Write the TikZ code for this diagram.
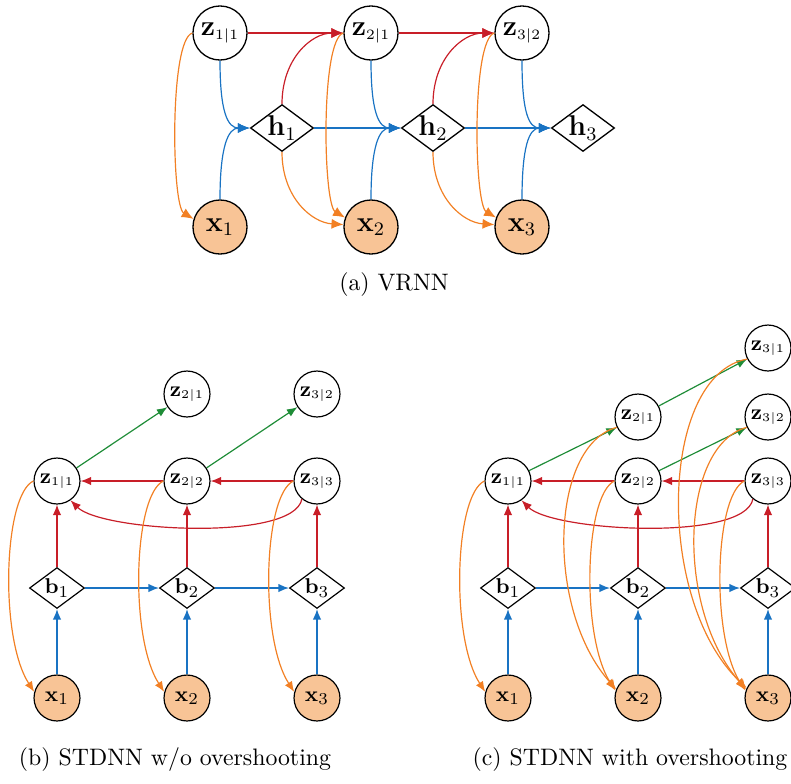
\documentclass[tikz,border=0pt]{standalone}
\usetikzlibrary{shapes.geometric,arrows.meta,calc}
\definecolor{corange}{RGB}{242,128,36}
\definecolor{cfill}{RGB}{248,196,150}
\definecolor{cblue}{RGB}{25,115,195}
\definecolor{cred}{RGB}{200,30,40}
\definecolor{cgreen}{RGB}{30,140,55}
\begin{document}
\begin{tikzpicture}[x=0.42pt,y=-0.42pt,
  zA/.style={circle,draw,line width=0.55pt,minimum size=22.7pt,inner sep=0pt,font=\fontsize{11.5}{13}\selectfont},
  xA/.style={zA,fill=cfill},
  hA/.style={diamond,draw,line width=0.55pt,minimum width=26.5pt,minimum height=19.7pt,inner sep=0pt,aspect=1.35,font=\fontsize{11.5}{13}\selectfont},
  zB/.style={circle,draw,line width=0.5pt,minimum size=19.3pt,inner sep=0pt,font=\fontsize{9.5}{11}\selectfont},
  xB/.style={zB,fill=cfill},
  bB/.style={diamond,draw,line width=0.5pt,minimum width=23.1pt,minimum height=17.2pt,inner sep=0pt,aspect=1.35,font=\fontsize{9.5}{11}\selectfont},
  eA/.style={line width=0.5pt,-{Latex[length=5pt,width=4.2pt]}},
  eB/.style={line width=0.5pt,-{Latex[length=4.4pt,width=3.5pt]}},
  captext/.style={font=\fontsize{10}{12}\selectfont,inner sep=0pt}
]
\useasboundingbox (0,0) rectangle (791,784);

% ---------------- (a) VRNN ----------------
\node[zA] (z11) at (220,33) {$\mathbf{z}_{\scriptscriptstyle 1|1}$};
\node[zA] (z21) at (371,33) {$\mathbf{z}_{\scriptscriptstyle 2|1}$};
\node[zA] (z32) at (522,33) {$\mathbf{z}_{\scriptscriptstyle 3|2}$};
\node[hA] (h1) at (282,128) {$\mathbf{h}_1$};
\node[hA] (h2) at (433,128) {$\mathbf{h}_2$};
\node[hA] (h3) at (583,128) {$\mathbf{h}_3$};
\node[xA] (x1) at (220,227) {$\mathbf{x}_1$};
\node[xA] (x2) at (371,227) {$\mathbf{x}_2$};
\node[xA] (x3) at (522,227) {$\mathbf{x}_3$};
\node[captext] (capa) at (394,285) {(a) VRNN};

\draw[eA,cred] (z11) -- (z21);
\draw[eA,cred] (z21) -- (z32);
\draw[eA,cred] (h1.north) .. controls ($(h1.north)+(0,-45)$) and ($(z21.west)+(-32,0)$) .. (z21.west);
\draw[eA,cred] (h2.north) .. controls ($(h2.north)+(0,-45)$) and ($(z32.west)+(-32,0)$) .. (z32.west);

\draw[eA,cblue] (z11.south) .. controls ($(z11.south)+(0,52)$) and ($(h1.west)+(-22,0)$) .. (h1.west);
\draw[eA,cblue] (x1.north) .. controls ($(x1.north)+(0,-52)$) and ($(h1.west)+(-22,0)$) .. (h1.west);
\draw[eA,cblue] (z21.south) .. controls ($(z21.south)+(0,52)$) and ($(h2.west)+(-22,0)$) .. (h2.west);
\draw[eA,cblue] (x2.north) .. controls ($(x2.north)+(0,-52)$) and ($(h2.west)+(-22,0)$) .. (h2.west);
\draw[eA,cblue] (z32.south) .. controls ($(z32.south)+(0,52)$) and ($(h3.west)+(-22,0)$) .. (h3.west);
\draw[eA,cblue] (x3.north) .. controls ($(x3.north)+(0,-52)$) and ($(h3.west)+(-22,0)$) .. (h3.west);
\draw[eA,cblue] (h1) -- (h2);
\draw[eA,cblue] (h2) -- (h3);

\draw[eA,corange] (z11.west) .. controls ($(z11.west)+(-23,7)$) and ($(x1.163)+(-22,-13)$) .. (x1.163);
\draw[eA,corange] (z21.west) .. controls ($(z21.west)+(-23,7)$) and ($(x2.160)+(-22,-13)$) .. (x2.160);
\draw[eA,corange] (z32.west) .. controls ($(z32.west)+(-23,7)$) and ($(x3.160)+(-22,-13)$) .. (x3.160);
\draw[eA,corange] (h1.south) .. controls ($(h1.south)+(0,45)$) and ($(x2.175)+(-32,-2)$) .. (x2.175);
\draw[eA,corange] (h2.south) .. controls ($(h2.south)+(0,45)$) and ($(x3.175)+(-32,-2)$) .. (x3.175);

% ---------------- (b) STDNN w/o overshooting ----------------
\node[zB] (bz21) at (187,394) {$\mathbf{z}_{\scriptscriptstyle 2|1}$};
\node[zB] (bz32) at (317,394) {$\mathbf{z}_{\scriptscriptstyle 3|2}$};
\node[zB] (bz11) at (57,481) {$\mathbf{z}_{\scriptscriptstyle 1|1}$};
\node[zB] (bz22) at (187,481) {$\mathbf{z}_{\scriptscriptstyle 2|2}$};
\node[zB] (bz33) at (317,481) {$\mathbf{z}_{\scriptscriptstyle 3|3}$};
\node[bB] (bb1) at (57,588) {$\mathbf{b}_1$};
\node[bB] (bb2) at (187,588) {$\mathbf{b}_2$};
\node[bB] (bb3) at (317,588) {$\mathbf{b}_3$};
\node[xB] (bx1) at (57,698) {$\mathbf{x}_1$};
\node[xB] (bx2) at (187,698) {$\mathbf{x}_2$};
\node[xB] (bx3) at (317,698) {$\mathbf{x}_3$};
\node[captext] (capb) at (175,760) {(b) STDNN w/o overshooting};

\draw[eB,cgreen] (bz11) -- (bz21);
\draw[eB,cgreen] (bz22) -- (bz32);
\draw[eB,cred] (bz22) -- (bz11);
\draw[eB,cred] (bz33) -- (bz22);
\draw[eB,cred] (bz33.230) .. controls ($(bz33.230)+(-8,43)$) and ($(bz11.-55)+(31,31)$) .. (bz11.-55);
\draw[eB,cred] (bb1) -- (bz11);
\draw[eB,cred] (bb2) -- (bz22);
\draw[eB,cred] (bb3) -- (bz33);
\draw[eB,cblue] (bx1) -- (bb1);
\draw[eB,cblue] (bx2) -- (bb2);
\draw[eB,cblue] (bx3) -- (bb3);
\draw[eB,cblue] (bb1) -- (bb2);
\draw[eB,cblue] (bb2) -- (bb3);
\draw[eB,corange] (bz11.west) .. controls ($(bz11.west)+(-30,14)$) and ($(bx1.165)+(-35,-54)$) .. (bx1.165);
\draw[eB,corange] (bz22.west) .. controls ($(bz22.west)+(-30,14)$) and ($(bx2.165)+(-35,-54)$) .. (bx2.165);
\draw[eB,corange] (bz33.west) .. controls ($(bz33.west)+(-30,14)$) and ($(bx3.165)+(-35,-54)$) .. (bx3.165);

% ---------------- (c) STDNN with overshooting ----------------
\node[zB] (cz31) at (768,348) {$\mathbf{z}_{\scriptscriptstyle 3|1}$};
\node[zB] (cz21) at (638,417) {$\mathbf{z}_{\scriptscriptstyle 2|1}$};
\node[zB] (cz32) at (768,417) {$\mathbf{z}_{\scriptscriptstyle 3|2}$};
\node[zB] (cz11) at (508,481) {$\mathbf{z}_{\scriptscriptstyle 1|1}$};
\node[zB] (cz22) at (638,481) {$\mathbf{z}_{\scriptscriptstyle 2|2}$};
\node[zB] (cz33) at (768,481) {$\mathbf{z}_{\scriptscriptstyle 3|3}$};
\node[bB] (cb1) at (508,588) {$\mathbf{b}_1$};
\node[bB] (cb2) at (638,588) {$\mathbf{b}_2$};
\node[bB] (cb3) at (768,588) {$\mathbf{b}_3$};
\node[xB] (cx1) at (508,698) {$\mathbf{x}_1$};
\node[xB] (cx2) at (638,698) {$\mathbf{x}_2$};
\node[xB] (cx3) at (768,698) {$\mathbf{x}_3$};
\node[captext] (capc) at (630,760) {(c) STDNN with overshooting};

\draw[eB,cgreen] (cz11) -- (cz21);
\draw[eB,cgreen] (cz21) -- (cz31);
\draw[eB,cgreen] (cz22) -- (cz32);
\draw[eB,cred] (cz22) -- (cz11);
\draw[eB,cred] (cz33) -- (cz22);
\draw[eB,cred] (cz33.230) .. controls ($(cz33.230)+(-8,43)$) and ($(cz11.-55)+(31,31)$) .. (cz11.-55);
\draw[eB,cred] (cb1) -- (cz11);
\draw[eB,cred] (cb2) -- (cz22);
\draw[eB,cred] (cb3) -- (cz33);
\draw[eB,cblue] (cx1) -- (cb1);
\draw[eB,cblue] (cx2) -- (cb2);
\draw[eB,cblue] (cx3) -- (cb3);
\draw[eB,cblue] (cb1) -- (cb2);
\draw[eB,cblue] (cb2) -- (cb3);
\draw[eB,corange] (cz11.west) .. controls ($(cz11.west)+(-30,14)$) and ($(cx1.165)+(-35,-54)$) .. (cx1.165);
\draw[eB,corange] (cz22.west) .. controls ($(cz22.west)+(-30,14)$) and ($(cx2.162)+(-35,-54)$) .. (cx2.162);
\draw[eB,corange] (cz21.206) .. controls ($(cz21.206)+(-67,18)$) and ($(cx2.158)+(-71,-80)$) .. (cx2.158);
\draw[eB,corange] (cz33.west) .. controls ($(cz33.west)+(-30,14)$) and ($(cx3.162)+(-35,-54)$) .. (cx3.162);
\draw[eB,corange] (cz32.206) .. controls ($(cz32.206)+(-67,18)$) and ($(cx3.158)+(-71,-80)$) .. (cx3.158);
\draw[eB,corange] (cz31.208) .. controls ($(cz31.208)+(-88,16)$) and ($(cx3.155)+(-92,-88)$) .. (cx3.155);
\end{tikzpicture}
\end{document}
